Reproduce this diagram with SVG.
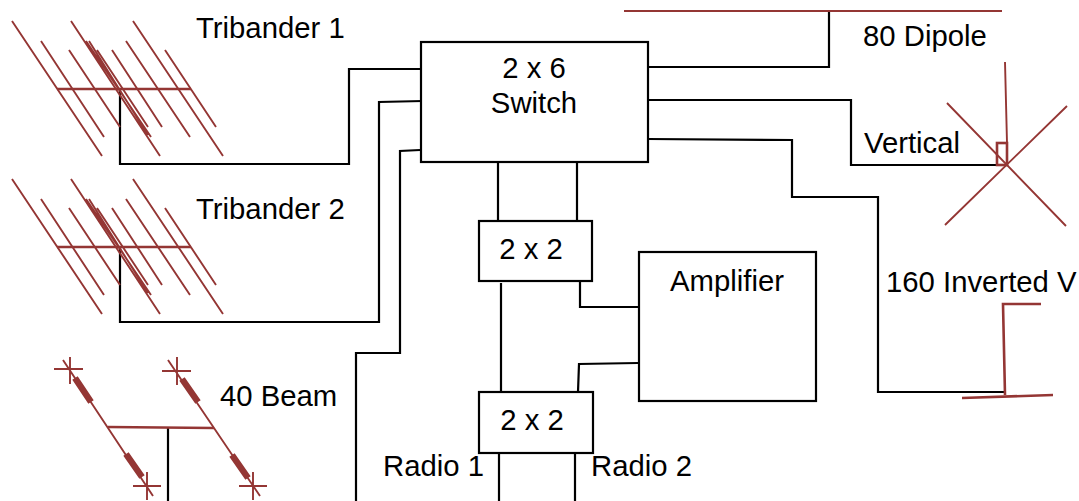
<svg xmlns="http://www.w3.org/2000/svg" width="1079" height="501" viewBox="0 0 1079 501">
<style>
text{font-family:"Liberation Sans",Arial,sans-serif;font-size:29.3px;fill:#000}
.m{text-anchor:middle}
.b{fill:#fff;stroke:#000;stroke-width:2.2}
.c{fill:none;stroke:#000;stroke-width:2.2}
.r{fill:none;stroke:#943634;stroke-width:1.9}
.r2{fill:none;stroke:#943634;stroke-width:2.6}
.t{fill:none;stroke:#943634;stroke-width:6.5}
</style>
<defs>
<g id="yagi">
<path class="r" d="M12 21L102 156M41 41L104 137M69 50L120 127M71 21L160 156M86 41L151 137M89 41L148 135M97 50L148 127M112 50L162 127M126 41L190 137M133 21L223 156M165 50L216 127"/>
<path class="r2" d="M57 89H191"/>
</g>
</defs>
<g id="connectors">
<path class="c" d="M120 89V164H349V69H421"/>
<path class="c" d="M120 247V322H379V102L423 101"/>
<path class="c" d="M420 150L400 151V353H356V501"/>
<path class="c" d="M168 428V501"/>
<path class="c" d="M648 67H829V11"/>
<path class="c" d="M648 100H851V165H997"/>
<path class="c" d="M648 139L792 140V197H878V392H1005"/>
<path class="c" d="M498 162V221M577 163V221"/>
<path class="c" d="M501 283V392M580 281V307H638M578 392L579 364L638 363"/>
<path class="c" d="M499 453V501M575 453V501"/>
</g>
<g id="tribander1"><use href="#yagi"/><text x="196" y="38">Tribander 1</text></g>
<g id="tribander2"><use href="#yagi" y="158"/><text x="196" y="219">Tribander 2</text></g>
<g id="beam40">
<path class="r" d="M63 360L153 496M168 360L260 496M54 369H83M70 357V384M133 486H161M147 472V500M162 371H191M177 357V385M239 486H267M253 472V500"/>
<path class="r2" d="M108 427L214 428"/>
<path class="t" d="M75 378L91 402M126 454L142 477M182 379L198 402M232 455L248 478"/>
<text x="220" y="406">40 Beam</text>
</g>
<g id="dipole80">
<path class="r" d="M624 11H1002"/>
<text x="863" y="46">80 Dipole</text>
</g>
<g id="vertical">
<path class="r" d="M947 103L1066 226M1067 106L945 225M1005 62L1007 143"/>
<rect class="r2" x="997" y="143" width="10" height="22"/>
<text x="864" y="153">Vertical</text>
</g>
<g id="invertedV">
<path class="r2" d="M1041 304H1003L1005 395M962 398L1053 395"/>
<text x="886" y="292">160 Inverted V</text>
</g>
<g id="switch"><rect class="b" x="421" y="42" width="227" height="120"/><text class="m" x="534" y="78">2 x 6</text><text class="m" x="534" y="113">Switch</text></g>
<g id="sw2a"><rect class="b" x="479" y="221" width="113" height="60"/><text class="m" x="531" y="259">2 x 2</text></g>
<g id="sw2b"><rect class="b" x="479" y="392" width="114" height="61"/><text class="m" x="532" y="430">2 x 2</text></g>
<g id="amplifier"><rect class="b" x="639" y="252" width="177" height="149"/><text class="m" x="727" y="291">Amplifier</text></g>
<g id="radio1"><text x="383" y="476">Radio 1</text></g>
<g id="radio2"><text x="591" y="476">Radio 2</text></g>
</svg>
